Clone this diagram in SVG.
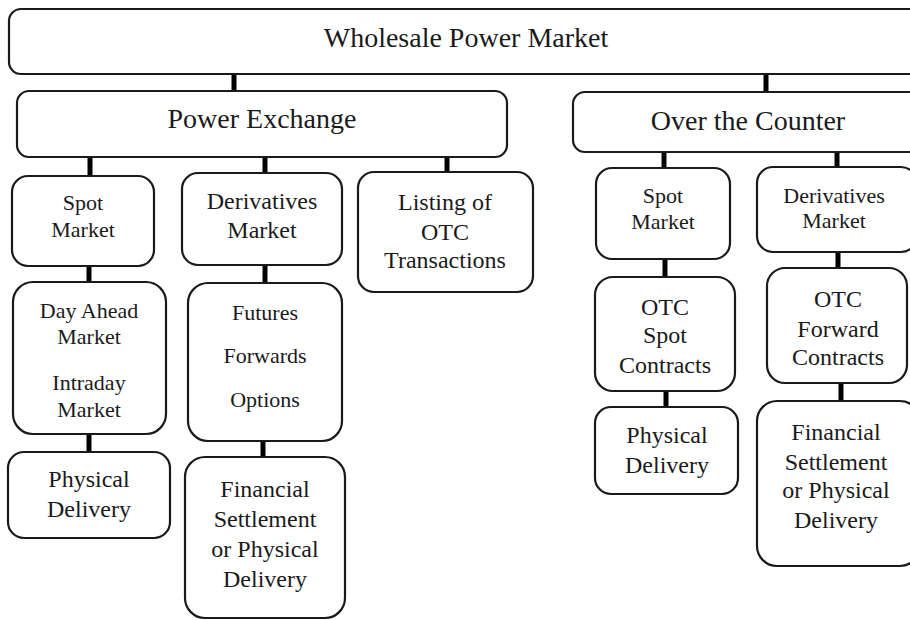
<svg xmlns="http://www.w3.org/2000/svg" width="910" height="620" viewBox="0 0 910 620">
<style>
.box{fill:#fff;stroke:#1a1a1a;stroke-width:2.2}
text{font-family:"Liberation Serif","Times New Roman",serif;fill:#1a1a1a;text-anchor:middle}
.h{font-size:28px}
.m{font-size:24px}
.s{font-size:22px}
.c line{stroke:#000;stroke-width:5}
</style>
<rect width="910" height="620" fill="#fff"/>
<g class="c" id="connectors">
<line x1="234" y1="74" x2="234" y2="92"/>
<line x1="766" y1="74" x2="766" y2="93"/>
<line x1="90" y1="157" x2="90" y2="177"/>
<line x1="265" y1="157" x2="265" y2="174"/>
<line x1="447" y1="157" x2="447" y2="173"/>
<line x1="89" y1="266" x2="89" y2="283"/>
<line x1="265" y1="265" x2="265" y2="284"/>
<line x1="89" y1="434" x2="89" y2="453"/>
<line x1="263" y1="441" x2="263" y2="458"/>
<line x1="664" y1="152" x2="664" y2="169"/>
<line x1="837" y1="152" x2="837" y2="168"/>
<line x1="665" y1="259" x2="665" y2="278"/>
<line x1="838" y1="252" x2="838" y2="269"/>
<line x1="666" y1="391" x2="666" y2="408"/>
<line x1="841" y1="383" x2="841" y2="402"/>
</g>
<g id="wholesale"><rect class="box" x="9" y="9" width="920" height="65" rx="12"/><text class="h" x="466" y="47">Wholesale Power Market</text></g>
<g id="power-exchange"><rect class="box" x="17" y="91" width="490" height="66" rx="12"/><text class="h" x="262" y="128">Power Exchange</text></g>
<g id="otc"><rect class="box" x="573" y="92" width="360" height="60" rx="12"/><text class="h" x="748" y="130">Over the Counter</text></g>
<g id="pe-spot"><rect class="box" x="12" y="176" width="142" height="90" rx="16"/><text class="s" x="83" y="210">Spot</text><text class="s" x="83" y="237">Market</text></g>
<g id="pe-deriv"><rect class="box" x="182" y="173" width="160" height="92" rx="16"/><text class="m" x="262" y="209">Derivatives</text><text class="m" x="262" y="238">Market</text></g>
<g id="listing"><rect class="box" x="358" y="172" width="175" height="120" rx="16"/><text class="m" x="445" y="210">Listing of</text><text class="m" x="445" y="240">OTC</text><text class="m" x="445" y="268">Transactions</text></g>
<g id="day-ahead"><rect class="box" x="13" y="282" width="153" height="152" rx="20"/><text class="s" x="89" y="318">Day Ahead</text><text class="s" x="89" y="344">Market</text><text class="s" x="89" y="390">Intraday</text><text class="s" x="89" y="417">Market</text></g>
<g id="futures"><rect class="box" x="188" y="283" width="154" height="158" rx="20"/><text class="s" x="265" y="320">Futures</text><text class="s" x="265" y="363">Forwards</text><text class="s" x="265" y="407">Options</text></g>
<g id="pe-physical"><rect class="box" x="8" y="452" width="162" height="86" rx="16"/><text class="m" x="89" y="487">Physical</text><text class="m" x="89" y="517">Delivery</text></g>
<g id="pe-financial"><rect class="box" x="185" y="457" width="160" height="161" rx="20"/><text class="m" x="265" y="497">Financial</text><text class="m" x="265" y="527">Settlement</text><text class="m" x="265" y="557">or Physical</text><text class="m" x="265" y="587">Delivery</text></g>
<g id="otc-spot"><rect class="box" x="596" y="168" width="134" height="91" rx="16"/><text class="s" x="663" y="203">Spot</text><text class="s" x="663" y="229">Market</text></g>
<g id="otc-deriv"><rect class="box" x="757" y="167" width="160" height="85" rx="16"/><text class="s" x="834" y="203">Derivatives</text><text class="s" x="834" y="228">Market</text></g>
<g id="otc-spot-contracts"><rect class="box" x="595" y="277" width="140" height="114" rx="18"/><text class="m" x="665" y="315">OTC</text><text class="m" x="665" y="343">Spot</text><text class="m" x="665" y="373">Contracts</text></g>
<g id="otc-forward"><rect class="box" x="767" y="268" width="140" height="115" rx="18"/><text class="m" x="838" y="307">OTC</text><text class="m" x="838" y="337">Forward</text><text class="m" x="838" y="365">Contracts</text></g>
<g id="otc-physical"><rect class="box" x="595" y="407" width="143" height="87" rx="16"/><text class="m" x="667" y="443">Physical</text><text class="m" x="667" y="473">Delivery</text></g>
<g id="otc-financial"><rect class="box" x="757" y="401" width="163" height="165" rx="20"/><text class="m" x="836" y="440">Financial</text><text class="m" x="836" y="470">Settlement</text><text class="m" x="836" y="498">or Physical</text><text class="m" x="836" y="528">Delivery</text></g>
</svg>
